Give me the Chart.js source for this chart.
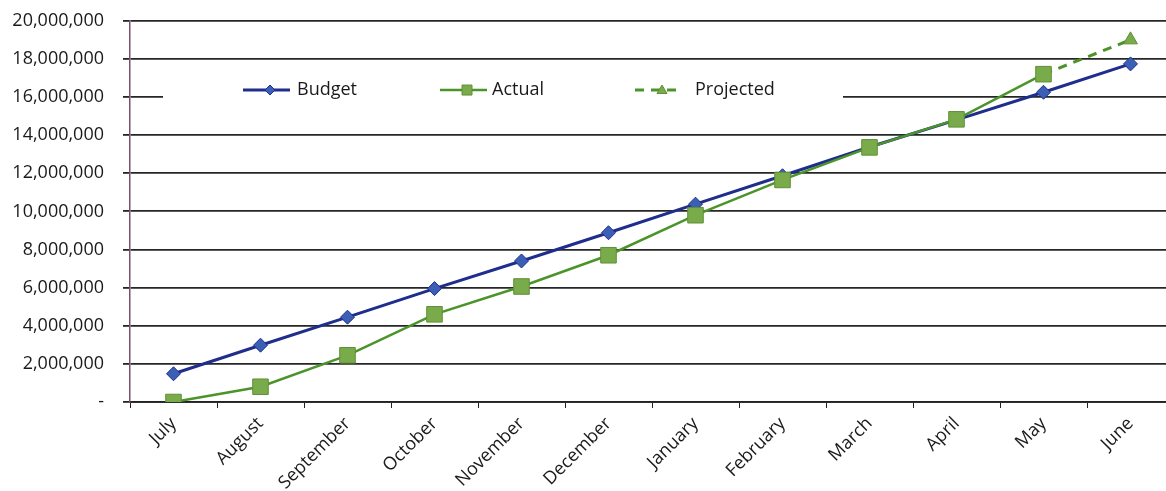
<!DOCTYPE html>
<html lang="en">
<head>
<meta charset="UTF-8">
<title>Budget vs Actual</title>
<script src="https://cdn.jsdelivr.net/npm/chart.js"></script>
<style>
  html, body { margin: 0; padding: 0; background: #fff; overflow: hidden; }
  #myChart { display: block; margin-top: -9px; }
</style>
</head>
<body>
<canvas id="myChart" width="1186" height="500"></canvas>
<script>
const months = ['July', 'August', 'September', 'October', 'November', 'December',
                'January', 'February', 'March', 'April', 'May', 'June'];
const budget = [1480000, 2980000, 4450000, 5950000, 7400000, 8880000,
                10380000, 11870000, 13380000, 14800000, 16250000, 17740000];
const actual = [0, 800000, 2450000, 4600000, 6060000, 7700000,
                9800000, 11650000, 13360000, 14830000, 17200000, null];
const projected = [null, null, null, null, null, null,
                   null, null, null, null, 17200000, 19000000];
const yMax = 20000000;
const yStep = 2000000;

const blueLine = '#1f2d8c';
const blueMark = '#3a5fb5';
const greenLine = '#4a942a';
const greenMark = '#7aab4b';

// legend sits inside the plot on a white box, like the original
const legendSpots = [
    {x: 243, textX: 297},
    {x: 440, textX: 492},
    {x: 635, textX: 695}
];

function drawMark(ctx, style, cx, cy, r, fill, stroke) {
    ctx.beginPath();
    if (style === 'rectRot') {
        ctx.moveTo(cx, cy - r); ctx.lineTo(cx + r, cy);
        ctx.lineTo(cx, cy + r); ctx.lineTo(cx - r, cy);
    } else if (style === 'rect') {
        ctx.rect(cx - r, cy - r, 2 * r, 2 * r);
    } else {
        ctx.moveTo(cx, cy - r); ctx.lineTo(cx + r, cy + r * 0.7);
        ctx.lineTo(cx - r, cy + r * 0.7);
    }
    ctx.closePath();
    ctx.setLineDash([]);
    ctx.fillStyle = fill;
    ctx.fill();
    ctx.lineWidth = 1;
    ctx.strokeStyle = stroke;
    ctx.stroke();
}

const insideLegend = {
    id: 'insideLegend',
    beforeDatasetsDraw(chart) {
        const ctx = chart.ctx;
        // legend row sits just above the 16M gridline
        const y = chart.scales.y.getPixelForValue(16000000) - 7;
        ctx.save();
        ctx.fillStyle = '#fff';
        ctx.fillRect(163, y - 17, 680, 34);
        chart.data.datasets.forEach((ds, i) => {
            const spot = legendSpots[i];
            ctx.beginPath();
            ctx.setLineDash(ds.borderDash || []);
            ctx.strokeStyle = ds.borderColor;
            ctx.lineWidth = ds.borderWidth;
            ctx.moveTo(spot.x, y);
            ctx.lineTo(spot.x + 47, y);
            ctx.stroke();
            drawMark(ctx, ds.pointStyle, spot.x + 27, y, 5, ds.pointBackgroundColor, ds.pointBorderColor);
            ctx.fillStyle = '#1a1a1a';
            ctx.font = '18px "Open Sans"';
            ctx.textBaseline = 'middle';
            ctx.fillText(ds.label, spot.textX, y);
        });
        ctx.restore();
    }
};

new Chart(document.getElementById('myChart'), {
    type: 'line',
    data: {
        labels: months,
        datasets: [{
            label: 'Budget',
            data: budget,
            borderColor: blueLine,
            borderWidth: 3,
            pointStyle: 'rectRot',
            pointRadius: 7,
            pointBackgroundColor: blueMark,
            pointBorderColor: blueLine,
            pointBorderWidth: 1,
            tension: 0,
            order: 2
        }, {
            label: 'Actual',
            data: actual,
            borderColor: greenLine,
            borderWidth: 2.5,
            pointStyle: 'rect',
            pointRadius: 11,
            pointBackgroundColor: greenMark,
            pointBorderColor: '#5f8f35',
            pointBorderWidth: 1,
            tension: 0,
            order: 1
        }, {
            label: 'Projected',
            data: projected,
            borderColor: greenLine,
            borderWidth: 3,
            borderDash: [9, 7],
            pointStyle: 'triangle',
            pointRadius: c => c.dataIndex === months.length - 1 ? 8 : 0,
            pointBackgroundColor: greenMark,
            pointBorderColor: '#5f8f35',
            pointBorderWidth: 1,
            tension: 0,
            order: 3
        }]
    },
    options: {
        responsive: false,
        animation: false,
        devicePixelRatio: 1,
        layout: {padding: {top: 11, right: 0, bottom: 0, left: 0}},
        plugins: {
            legend: {display: false},
            tooltip: {enabled: false}
        },
        scales: {
            x: {
                offset: true,
                grid: {
                    offset: true,
                    drawOnChartArea: false,
                    drawTicks: true,
                    tickLength: 6,
                    color: '#222'
                },
                border: {color: '#222', width: 1.8},
                ticks: {
                    minRotation: 45,
                    maxRotation: 45,
                    padding: 5,
                    color: '#1a1a1a',
                    font: {family: '"Open Sans"', size: 18}
                },
                afterFit: s => { s.height = 89; }
            },
            y: {
                min: 0,
                max: yMax,
                ticks: {
                    stepSize: yStep,
                    padding: 19,
                    color: '#1a1a1a',
                    font: {family: '"Open Sans"', size: 18},
                    callback: v => v === 0 ? '-' : v.toLocaleString('en-US')
                },
                grid: {
                    color: '#262626',
                    lineWidth: 1.8,
                    tickLength: 7
                },
                border: {color: '#7a4f6e', width: 1.5},
                afterFit: s => { s.width = 130; }
            }
        }
    },
    plugins: [insideLegend]
});
</script>
</body>
</html>
